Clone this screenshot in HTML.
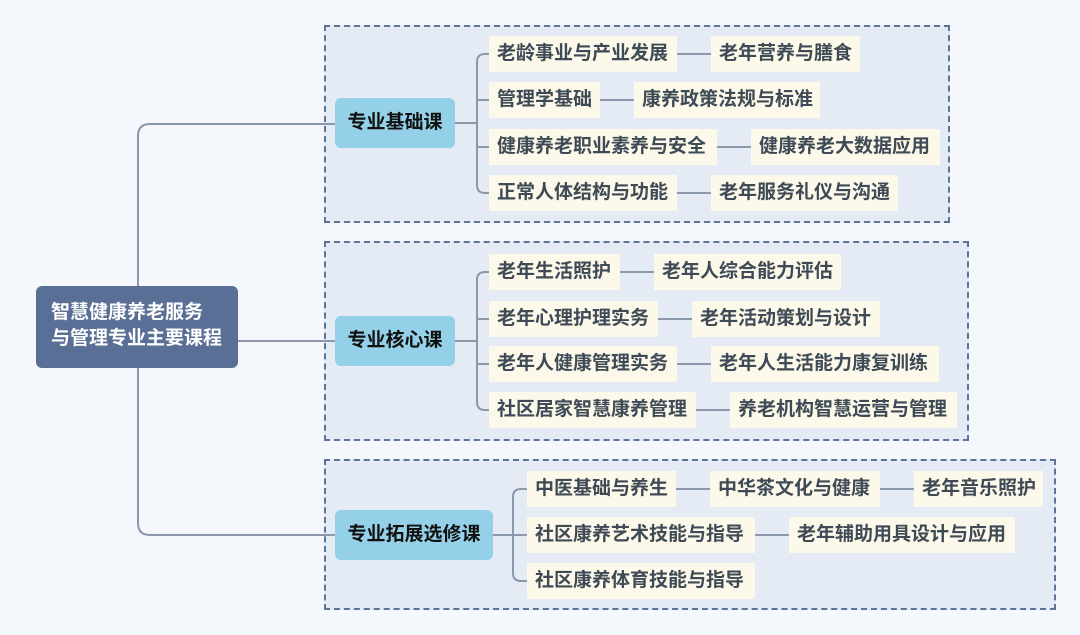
<!DOCTYPE html>
<html><head><meta charset="utf-8"><style>
body{margin:0;width:1080px;height:635px;background:#f4f8fc;position:relative;overflow:hidden;font-family:"Liberation Sans","Noto Sans CJK SC",sans-serif;font-weight:bold;}
.f{position:absolute;background:#e5ebf5;border:2px dashed #5d7399;box-sizing:border-box;}
.b{position:absolute;background:#fcf8ea;color:#3e4a55;font-size:19px;height:36px;line-height:36px;box-sizing:border-box;padding-left:8px;white-space:nowrap;}
.c{position:absolute;background:#94d1e8;color:#111;font-size:19px;border-radius:6px;text-align:center;line-height:50px;height:50px;}
.r{position:absolute;left:36px;top:286px;width:202px;height:82px;background:#5a6f96;color:#fff;border-radius:6px;font-size:19px;line-height:26px;padding:14px 0 0 15px;box-sizing:border-box;white-space:nowrap;}
svg{position:absolute;left:0;top:0}
</style></head><body>
<div class="f" style="left:324px;top:25px;width:626px;height:198px"></div>
<div class="f" style="left:324px;top:241px;width:645px;height:200px"></div>
<div class="f" style="left:324px;top:459px;width:732px;height:151px"></div>
<svg width="1080" height="635"><g stroke="#8b97aa" stroke-width="2" fill="none">
<path d="M335 124 H150 Q138 124 138 136 V523 Q138 535 150 535 H335"/>
<path d="M238 341 H335"/>
<path d="M455 123 H477 M489 54 H485 Q477 54 477 62 V185 Q477 193 485 193 H489 M477 100 H489 M477 147 H489"/>
<path d="M677 54 H711 M600 100 H634 M717 147 H751 M677 193 H711"/>
<path d="M455 341 H477 M489 272 H485 Q477 272 477 280 V402 Q477 410 485 410 H489 M477 319 H489 M477 364 H489"/>
<path d="M620 272 H654 M658 319 H692 M677 364 H711 M696 410 H730"/>
<path d="M493 535 H513 M527 489 H521 Q513 489 513 497 V573 Q513 581 521 581 H527 M513 535 H527"/>
<path d="M676 489 H710 M880 489 H914 M755 535 H789"/>
</g></svg>
<div class="r">智慧健康养老服务<br>与管理专业主要课程</div>
<div class="c" style="left:335px;top:98px;width:120px">专业基础课</div>
<div class="c" style="left:335px;top:316px;width:120px">专业核心课</div>
<div class="c" style="left:335px;top:510px;width:158px">专业拓展选修课</div>

<div class="b" style="left:489px;top:36px;width:188px">老龄事业与产业发展</div>
<div class="b" style="left:711px;top:36px;width:149px">老年营养与膳食</div>
<div class="b" style="left:489px;top:82px;width:111px">管理学基础</div>
<div class="b" style="left:634px;top:82px;width:186px">康养政策法规与标准</div>
<div class="b" style="left:489px;top:129px;width:228px">健康养老职业素养与安全</div>
<div class="b" style="left:751px;top:129px;width:189px">健康养老大数据应用</div>
<div class="b" style="left:489px;top:175px;width:188px">正常人体结构与功能</div>
<div class="b" style="left:711px;top:175px;width:187px">老年服务礼仪与沟通</div>

<div class="b" style="left:489px;top:254px;width:131px">老年生活照护</div>
<div class="b" style="left:654px;top:254px;width:187px">老年人综合能力评估</div>
<div class="b" style="left:489px;top:301px;width:169px">老年心理护理实务</div>
<div class="b" style="left:692px;top:301px;width:188px">老年活动策划与设计</div>
<div class="b" style="left:489px;top:346px;width:188px">老年人健康管理实务</div>
<div class="b" style="left:711px;top:346px;width:228px">老年人生活能力康复训练</div>
<div class="b" style="left:489px;top:392px;width:207px">社区居家智慧康养管理</div>
<div class="b" style="left:730px;top:392px;width:227px">养老机构智慧运营与管理</div>

<div class="b" style="left:527px;top:471px;width:149px">中医基础与养生</div>
<div class="b" style="left:710px;top:471px;width:170px">中华茶文化与健康</div>
<div class="b" style="left:914px;top:471px;width:129px">老年音乐照护</div>
<div class="b" style="left:527px;top:517px;width:228px">社区康养艺术技能与指导</div>
<div class="b" style="left:789px;top:517px;width:226px">老年辅助用具设计与应用</div>
<div class="b" style="left:527px;top:563px;width:228px">社区康养体育技能与指导</div>
</body></html>
